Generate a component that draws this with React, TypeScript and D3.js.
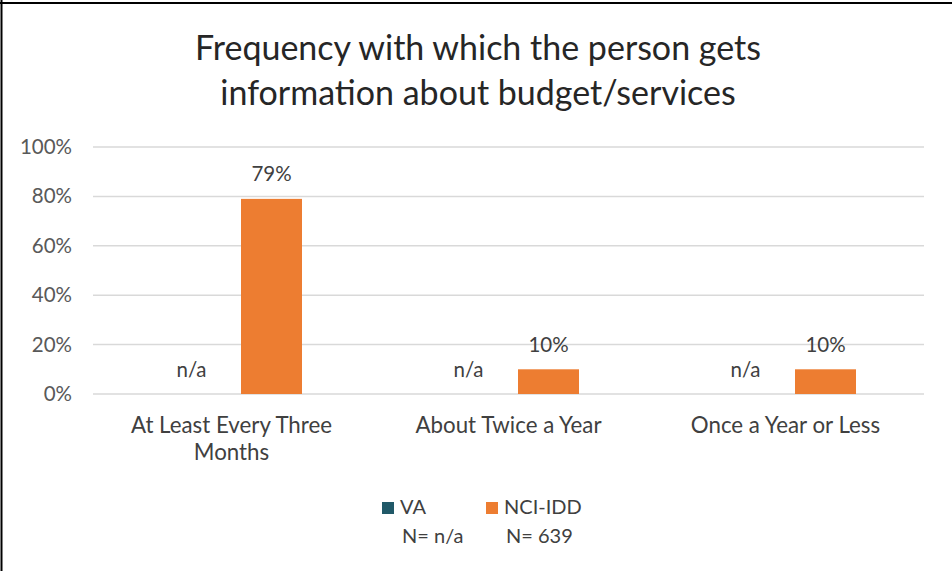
import React from "react";
import * as d3 from "d3";

const categories = ["At Least Every Three Months", "About Twice a Year", "Once a Year or Less"];
const categoryLines = [["At Least Every Three", "Months"], ["About Twice a Year"], ["Once a Year or Less"]];
const seriesNames = ["VA", "NCI-IDD"];
const seriesN = ["N= n/a", "N= 639"];
const vaValues: (number | null)[] = [null, null, null];
const nciValues: (number | null)[] = [0.79, 0.10, 0.10];
const yTicks = [0, 0.2, 0.4, 0.6, 0.8, 1.0];
const colors = ["#215968", "#ED7D31"];

const W = 952, H = 571;
const FONT = "Lato, 'Open Sans', sans-serif";

export default function App() {
  const x0 = d3.scaleBand<string>().domain(categories).range([93, 924]).paddingInner(0).paddingOuter(0);
  const x1 = d3.scaleBand<string>().domain(seriesNames).range([0, x0.bandwidth()]).paddingInner(0.2375).paddingOuter(0.85);
  const y = d3.scaleLinear().domain([0, 1]).range([394, 147]);
  const fmt = d3.format(".0%");
  const series = [vaValues, nciValues];

  return (
    <div style={{ position: "absolute", left: 0, top: 0, width: W, height: H }}>
      <svg width={W} height={H} style={{ display: "block", fontFamily: FONT }}>
        <rect x={0} y={0} width={W} height={H} fill="#fff" />
        <line x1={0} x2={W} y1={3} y2={3} stroke="#000" strokeWidth={2} />
        <line x1={1.5} x2={1.5} y1={0} y2={H} stroke="#000" strokeWidth={2} />
        <text x={478} y={60} textAnchor="middle" fontSize={34} fill="#262626">Frequency with which the person gets</text>
        <text x={478} y={105} textAnchor="middle" fontSize={34} fill="#262626">information about budget/services</text>
        {yTicks.map((t) => (
          <g key={t}>
            <line x1={93} x2={924} y1={y(t)} y2={y(t)} stroke="#D9D9D9" strokeWidth={1.5} />
            <text x={72} y={y(t) + 7} textAnchor="end" fontSize={20.5} fill="#595959">{fmt(t)}</text>
          </g>
        ))}
        {categories.map((c, ci) => (
          <g key={c}>
            {series.map((vals, si) => {
              const v = vals[ci];
              const bx = (x0(c) ?? 0) + (x1(seriesNames[si]) ?? 0);
              const bw = x1.bandwidth();
              const top = y(v ?? 0);
              return (
                <g key={si}>
                  {v !== null && (
                    <rect x={bx} y={top} width={bw} height={y(0) - top} fill={colors[si]} />
                  )}
                  <text x={bx + bw / 2} y={top - 17.5} textAnchor="middle" fontSize={20.5} fill="#404040">
                    {v === null ? "n/a" : fmt(v)}
                  </text>
                </g>
              );
            })}
            {categoryLines[ci].map((ln, li) => (
              <text key={li} x={(x0(c) ?? 0) + x0.bandwidth() / 2} y={433 + li * 27} textAnchor="middle" fontSize={22.3} fill="#404040">{ln}</text>
            ))}
          </g>
        ))}
        {seriesNames.map((s, si) => {
          const lx = si === 0 ? 382 : 486;
          return (
            <g key={s}>
              <rect x={lx} y={502} width={12} height={12} fill={colors[si]} />
              <text x={lx + 18} y={514} fontSize={20} fill="#404040">{s}</text>
              <text x={lx + 20} y={543} fontSize={20} fill="#404040">{seriesN[si]}</text>
            </g>
          );
        })}
      </svg>
    </div>
  );
}
